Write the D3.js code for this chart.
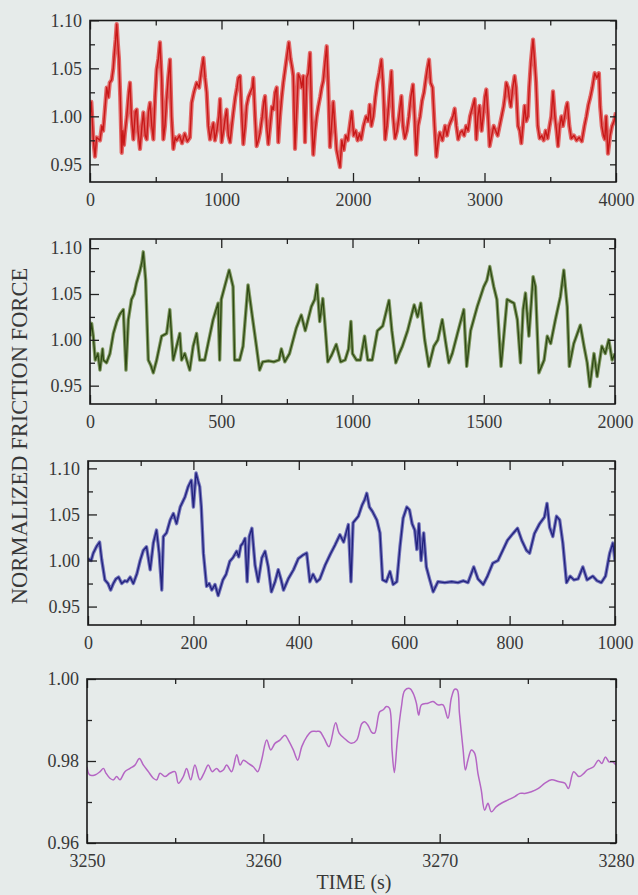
<!DOCTYPE html>
<html>
<head>
<meta charset="utf-8">
<script src="https://cdn.jsdelivr.net/npm/d3@7"></script>
<style>
body { margin: 0; background: #e6ebea; }
svg text { font-family: "Liberation Serif", "Times New Roman", serif; fill: #383838; }
.tick line { stroke: #222; stroke-width: 1.3; }
</style>
</head>
<body>
<svg id="chart" width="638" height="895"></svg>
<script>
// friction force traces, [time (s), normalized force]
var redData = [[0,1.000],[10,1.015],[20,0.990],[25,0.976],[38,0.958],[50,0.978],[76,0.975],[90,0.990],[100,0.985],[115,1.010],
	[127,1.030],[140,1.020],[150,1.035],[165,1.038],[177,1.050],[185,1.065],[195,1.080],[203,1.096],[212,1.075],[220,1.060],
	[230,1.020],[241,0.962],[250,0.985],[258,0.970],[266,0.983],[280,1.000],[295,1.025],[304,1.035],[315,1.000],[330,0.976],
	[345,1.005],[355,1.007],[365,0.985],[380,0.966],[395,0.990],[406,1.004],[420,0.980],[431,0.976],[445,1.005],[456,1.014],
	[470,0.990],[482,0.976],[495,1.020],[507,1.049],[520,1.060],[532,1.077],[545,1.040],[558,0.976],[570,0.990],[583,1.018],
	[595,1.040],[608,1.059],[620,1.000],[634,0.966],[648,0.978],[659,0.975],[680,0.980],[700,0.972],[720,0.982],[740,0.974],
	[760,0.978],[773,1.014],[790,1.025],[811,1.035],[830,1.030],[845,1.045],[862,1.061],[875,1.040],[887,1.025],[900,0.990],
	[913,0.976],[925,0.985],[938,0.993],[950,0.975],[965,0.985],[980,1.000],[989,1.018],[1001,0.973],[1015,0.985],[1030,1.000],
	[1039,1.007],[1052,0.980],[1065,0.973],[1078,0.990],[1090,1.004],[1105,1.020],[1118,1.030],[1128,1.040],[1141,1.042],[1155,1.000],
	[1166,0.971],[1180,0.990],[1191,1.011],[1205,1.020],[1220,1.025],[1235,1.030],[1242,1.040],[1255,1.000],[1267,0.969],[1280,0.975],
	[1293,0.983],[1310,1.000],[1322,1.015],[1331,1.021],[1344,0.990],[1356,0.971],[1370,0.990],[1384,1.010],[1394,1.007],[1408,1.025],
	[1420,1.030],[1432,0.973],[1445,1.000],[1458,1.020],[1470,1.035],[1485,1.050],[1500,1.065],[1512,1.077],[1525,1.060],[1538,1.050],
	[1546,1.042],[1559,0.966],[1570,1.000],[1584,1.044],[1597,1.040],[1610,1.030],[1622,1.042],[1635,0.973],[1648,1.040],[1660,1.045],
	[1673,1.066],[1685,1.000],[1698,0.960],[1712,0.985],[1724,1.000],[1736,1.010],[1750,1.020],[1762,1.030],[1774,1.037],[1790,1.060],
	[1800,1.073],[1812,1.030],[1825,0.968],[1837,0.990],[1850,1.015],[1862,0.990],[1875,0.965],[1890,0.955],[1901,0.947],[1915,0.975],
	[1930,0.965],[1945,0.980],[1960,0.975],[1975,0.990],[1990,1.005],[2005,0.980],[2020,0.985],[2035,0.975],[2050,0.982],[2062,0.976],
	[2080,0.990],[2100,1.000],[2115,0.995],[2127,1.012],[2140,0.990],[2155,1.000],[2170,1.020],[2185,1.035],[2200,1.045],[2216,1.059],
	[2230,1.030],[2245,0.976],[2258,0.990],[2270,1.010],[2282,1.030],[2292,1.047],[2305,1.000],[2320,0.977],[2335,0.985],[2350,1.000],
	[2368,1.021],[2380,0.990],[2394,0.977],[2410,0.985],[2425,1.000],[2440,1.020],[2456,1.033],[2468,1.000],[2481,0.960],[2495,0.990],
	[2510,1.000],[2525,1.016],[2540,1.025],[2555,1.040],[2566,1.050],[2578,1.059],[2590,1.035],[2605,1.030],[2620,0.990],[2634,0.958],
	[2648,0.975],[2660,0.983],[2680,0.975],[2700,0.990],[2715,0.980],[2730,0.990],[2745,0.995],[2760,1.000],[2773,1.008],[2786,0.990],
	[2800,0.976],[2815,0.983],[2830,0.985],[2845,0.980],[2860,0.990],[2875,0.985],[2890,1.000],[2910,1.010],[2925,1.018],[2938,0.976],
	[2950,1.000],[2962,1.011],[2978,0.985],[2990,1.000],[3003,1.020],[3014,1.028],[3027,1.000],[3039,0.969],[3055,0.980],[3070,0.990],
	[3085,0.985],[3100,0.980],[3115,0.990],[3130,1.000],[3145,1.010],[3155,1.020],[3166,1.035],[3178,1.030],[3190,1.018],[3200,1.010],
	[3215,1.030],[3229,1.042],[3240,1.030],[3255,0.990],[3268,0.985],[3280,0.972],[3292,0.990],[3305,1.011],[3318,0.995],[3330,1.000],
	[3340,1.030],[3352,1.055],[3362,1.070],[3369,1.080],[3380,1.060],[3392,1.035],[3405,0.990],[3420,0.977],[3435,0.980],[3450,0.975],
	[3465,0.985],[3480,0.977],[3495,0.990],[3508,1.000],[3521,1.026],[3535,1.000],[3548,0.985],[3559,0.969],[3572,0.990],[3585,1.000],
	[3597,0.990],[3610,1.000],[3622,1.010],[3630,1.014],[3645,0.990],[3660,0.977],[3680,0.980],[3700,0.975],[3720,0.978],[3740,0.974],
	[3760,0.990],[3775,1.000],[3790,1.012],[3805,1.020],[3820,1.030],[3838,1.045],[3855,1.040],[3870,1.045],[3880,1.010],[3892,0.990],
	[3905,0.980],[3915,0.976],[3925,1.000],[3939,0.961],[3955,0.980],[3970,0.990],[3985,0.995],[4000,1.004]];

var greenData = [[0,1.004],[6,1.018],[12,1.005],[20,0.978],[30,0.985],[38,0.967],[48,0.990],[51,0.978],[63,0.975],[76,0.985],
	[89,1.007],[102,1.020],[114,1.028],[127,1.033],[137,0.967],[146,1.022],[158,1.044],[168,1.050],[177,1.062],[190,1.075],
	[198,1.085],[203,1.096],[212,1.065],[222,0.978],[232,0.972],[241,0.964],[254,0.978],[273,1.004],[292,1.007],[304,1.033],
	[317,0.978],[330,0.993],[342,1.007],[349,0.978],[361,0.985],[380,0.967],[393,0.993],[406,1.007],[418,0.978],[437,0.978],
	[450,0.996],[469,1.022],[488,1.040],[494,0.978],[500,1.044],[513,1.058],[530,1.076],[545,1.058],[551,0.978],[570,0.978],
	[583,0.993],[602,1.060],[620,1.022],[634,0.993],[646,0.967],[658,0.976],[680,0.977],[700,0.976],[720,0.978],[729,0.990],
	[742,0.976],[760,0.985],[786,1.013],[805,1.027],[820,1.010],[843,1.036],[856,1.044],[865,1.060],[875,1.020],[887,1.045],
	[897,1.010],[906,0.976],[920,0.983],[938,0.995],[955,0.976],[972,0.978],[985,0.990],[994,1.020],[1000,0.985],[1015,0.978],
	[1030,0.978],[1046,1.004],[1058,0.978],[1075,0.978],[1095,1.010],[1115,1.015],[1139,1.043],[1150,1.010],[1165,0.975],[1178,0.985],
	[1190,0.993],[1210,1.010],[1235,1.038],[1248,1.025],[1260,1.040],[1275,1.000],[1291,0.971],[1310,0.993],[1325,1.000],[1342,1.022],
	[1355,0.997],[1367,0.975],[1380,0.985],[1400,1.007],[1424,1.033],[1435,0.971],[1450,1.010],[1475,1.036],[1500,1.058],[1512,1.065],
	[1523,1.080],[1538,1.058],[1550,1.044],[1566,0.971],[1582,1.022],[1589,1.044],[1615,1.040],[1628,1.022],[1640,0.975],[1650,1.033],
	[1659,1.051],[1672,1.004],[1688,1.069],[1697,1.058],[1710,0.964],[1730,0.978],[1742,1.004],[1755,0.996],[1773,1.022],[1792,1.047],
	[1805,1.076],[1818,1.036],[1826,0.971],[1843,0.996],[1868,1.016],[1882,0.993],[1894,0.975],[1904,0.949],[1920,0.985],[1932,0.960],
	[1950,0.993],[1963,0.985],[1976,1.000],[1989,0.978],[2000,0.985]];

var blueData = [[0,1.002],[6,1.000],[10,1.008],[16,1.015],[22,1.020],[26,1.001],[32,0.979],[38,0.975],[43,0.968],[48,0.975],
	[53,0.980],[58,0.982],[64,0.975],[70,0.978],[74,0.977],[80,0.982],[86,0.975],[93,0.986],[99,1.000],[105,1.011],
	[111,1.015],[118,0.990],[124,1.019],[130,1.033],[135,1.008],[140,0.968],[143,1.026],[149,1.030],[156,1.044],[162,1.051],
	[168,1.040],[175,1.058],[184,1.069],[190,1.080],[196,1.087],[200,1.058],[205,1.095],[209,1.086],[212,1.080],[215,1.058],
	[219,1.008],[225,0.972],[230,0.975],[235,0.968],[241,0.974],[247,0.962],[256,0.979],[262,0.985],[269,0.999],[275,1.003],
	[282,1.010],[286,1.004],[290,1.016],[294,1.019],[298,1.024],[302,0.977],[306,1.026],[311,1.035],[317,0.995],[323,0.977],
	[330,1.003],[336,1.010],[342,0.993],[348,0.966],[355,0.977],[361,0.990],[366,0.980],[371,0.968],[380,0.980],[390,0.990],
	[399,1.002],[408,1.006],[415,1.008],[421,0.977],[427,0.985],[434,0.977],[440,0.980],[450,0.995],[460,1.007],[469,1.017],
	[478,1.028],[485,1.020],[494,1.039],[499,0.977],[503,1.041],[513,1.048],[520,1.060],[525,1.066],[529,1.073],[534,1.058],
	[540,1.053],[548,1.044],[554,1.030],[559,0.979],[566,0.977],[573,0.988],[579,0.974],[586,0.977],[592,1.015],[598,1.046],
	[605,1.058],[610,1.055],[615,1.040],[620,1.033],[624,1.012],[628,1.040],[632,1.000],[637,1.030],[642,0.993],[648,0.980],
	[655,0.966],[664,0.977],[677,0.976],[690,0.977],[702,0.976],[712,0.978],[721,0.976],[732,0.993],[740,0.980],[750,0.974],
	[758,0.983],[768,0.997],[778,1.000],[787,1.011],[796,1.022],[806,1.029],[815,1.035],[823,1.022],[832,1.011],[838,1.008],
	[847,1.029],[857,1.040],[866,1.047],[871,1.062],[876,1.036],[882,1.026],[889,1.048],[895,1.044],[901,1.019],[908,0.976],
	[915,0.983],[922,0.979],[930,0.980],[939,0.993],[947,0.979],[958,0.983],[966,0.978],[974,0.976],[982,0.983],[990,1.008],
	[996,1.019],[1000,1.000]];

var purpleData = [[3250.0,0.9786],[3250.15,0.9766],[3250.45,0.9766],[3250.74,0.9774],[3250.93,0.9782],[3251.08,0.9770],[3251.3,0.9758],
	[3251.5,0.9754],[3251.68,0.9762],[3251.87,0.9754],[3252.15,0.9774],[3252.44,0.9782],[3252.72,0.9790],[3252.97,0.9806],
	[3253.2,0.9790],[3253.48,0.9774],[3253.76,0.9758],[3253.95,0.9754],[3254.14,0.9770],[3254.42,0.9762],[3254.7,0.9770],
	[3254.99,0.9774],[3255.18,0.9746],[3255.46,0.9762],[3255.65,0.9782],[3255.88,0.9754],[3256.12,0.9790],[3256.4,0.9754],
	[3256.63,0.9770],[3256.88,0.9790],[3257.1,0.9774],[3257.35,0.9782],[3257.54,0.9774],[3257.73,0.9778],[3257.92,0.9790],
	[3258.2,0.9774],[3258.49,0.9815],[3258.68,0.9790],[3258.87,0.9802],[3259.15,0.9794],[3259.43,0.9786],[3259.68,0.9774],
	[3259.9,0.9802],[3260.19,0.9851],[3260.42,0.9827],[3260.66,0.9843],[3260.94,0.9851],[3261.23,0.9863],[3261.42,0.9851],
	[3261.7,0.9827],[3261.95,0.9802],[3262.18,0.9835],[3262.46,0.9859],[3262.74,0.9872],[3263.0,0.9872],[3263.2,0.9872],
	[3263.45,0.9855],[3263.72,0.9835],[3264.1,0.9893],[3264.3,0.9868],[3264.6,0.9855],[3265.0,0.9843],[3265.3,0.9851],
	[3265.58,0.9891],[3265.75,0.9896],[3265.95,0.9886],[3266.15,0.9870],[3266.31,0.9868],[3266.6,0.9920],[3266.8,0.9925],
	[3266.98,0.9933],[3267.15,0.9929],[3267.3,0.9826],[3267.43,0.9772],[3267.6,0.9851],[3267.83,0.9932],[3268.02,0.9972],
	[3268.3,0.9977],[3268.5,0.9965],[3268.68,0.9941],[3268.81,0.9912],[3268.97,0.9937],[3269.34,0.9941],[3269.63,0.9945],
	[3269.9,0.9937],[3270.19,0.9937],[3270.47,0.9904],[3270.66,0.9953],[3270.85,0.9975],[3271.0,0.9973],[3271.12,0.9917],
	[3271.33,0.9827],[3271.46,0.9778],[3271.6,0.9802],[3271.8,0.9827],[3271.98,0.9819],[3272.17,0.9770],[3272.36,0.9729],
	[3272.55,0.9680],[3272.74,0.9697],[3272.93,0.9676],[3273.2,0.9688],[3273.5,0.9697],[3273.88,0.9705],[3274.26,0.9713],
	[3274.55,0.9721],[3274.83,0.9721],[3275.2,0.9725],[3275.6,0.9733],[3275.97,0.9746],[3276.35,0.9754],[3276.73,0.9750],
	[3277.1,0.9746],[3277.3,0.9733],[3277.6,0.9774],[3277.9,0.9762],[3278.18,0.9770],[3278.36,0.9778],[3278.73,0.9786],
	[3279.0,0.9802],[3279.2,0.9794],[3279.4,0.9810],[3279.6,0.9798],[3279.8,0.9798],[3280.0,0.9790]];

// tick labels
var redTicks = [0, 1000, 2000, 3000, 4000];
var greenTicks = [0, 500, 1000, 1500, 2000];
var blueTicks = [0, 200, 400, 600, 800, 1000];
var purpleTicks = [3250, 3260, 3270, 3280];
var forceTicks = [0.95, 1.00, 1.05, 1.10];
var zoomForceTicks = [0.96, 0.98, 1.00];

var panels = [
	{ id: "red", data: redData, color: "#c81818", halo: "#e03a3a", lw: 1.4, hw: 4.2, left: 90, right: 616, top: 20.5, bottom: 182,
		xDomain: [0, 4000], yDomain: [0.9316, 1.0998], xTicks: redTicks, xStep: 500, yTicks: forceTicks, yStep: 0.025 },
	{ id: "green", data: greenData, color: "#2f4a14", halo: "#5a7a30", lw: 1.3, hw: 3.4, left: 90, right: 615, top: 239, bottom: 404,
		xDomain: [0, 2000], yDomain: [0.930, 1.110], xTicks: greenTicks, xStep: 250, yTicks: forceTicks, yStep: 0.025 },
	{ id: "blue", data: blueData, color: "#22227e", halo: "#4a4aa8", lw: 1.3, hw: 3.4, left: 88, right: 615, top: 461, bottom: 625,
		xDomain: [0, 1000], yDomain: [0.930, 1.108], xTicks: blueTicks, xStep: 100, yTicks: forceTicks, yStep: 0.025 },
	{ id: "purple", data: purpleData, color: "#b566c4", halo: null, lw: 1.5, hw: 0, left: 87, right: 616, top: 679, bottom: 843,
		xDomain: [3250, 3280], yDomain: [0.96, 1.00], xTicks: purpleTicks, xStep: 5, yTicks: zoomForceTicks, yStep: 0.01 }
];

function minorTicks(domain, step, major) {
	var out = [];
	var n = Math.round((domain[1] - domain[0]) / step);
	for (var i = 0; i <= n; ++i) {
		var v = +(domain[0] + i * step).toFixed(4);
		var isMajor = major.some(function(m) { return Math.abs(m - v) < step / 10; });
		if (!isMajor) out.push(v);
	}
	return out;
}

function renderPanel(p) {
	var svg = d3.select("#chart");
	var g = svg.append("g").attr("id", "panel_" + p.id);

	var x = d3.scaleLinear().domain(p.xDomain).range([p.left, p.right]);
	var y = d3.scaleLinear().domain(p.yDomain).range([p.bottom, p.top]);

	svg.append("clipPath").attr("id", "clip_" + p.id)
		.append("rect")
		.attr("x", p.left).attr("y", p.top)
		.attr("width", p.right - p.left).attr("height", p.bottom - p.top);

	var line = d3.line()
		.x(function(d) { return x(d[0]); })
		.y(function(d) { return y(d[1]); })
		.curve(p.id == "purple" ? d3.curveCatmullRom : d3.curveLinear);

	// the noisy traces read as a thick band, so draw a soft halo under the core line
	if (p.halo) {
		g.append("path")
			.datum(p.data)
			.attr("d", line)
			.attr("clip-path", "url(#clip_" + p.id + ")")
			.attr("fill", "none")
			.attr("stroke", p.halo)
			.attr("stroke-opacity", 0.75)
			.attr("stroke-width", p.hw)
			.attr("stroke-linejoin", "round");
	}
	g.append("path")
		.datum(p.data)
		.attr("d", line)
		.attr("clip-path", "url(#clip_" + p.id + ")")
		.attr("fill", "none")
		.attr("stroke", p.color)
		.attr("stroke-width", p.lw)
		.attr("stroke-linejoin", "round");

	var xMinor = minorTicks(p.xDomain, p.xStep, p.xTicks);
	var yMinor = minorTicks(p.yDomain[0] < p.yTicks[0] ? [p.yTicks[0] - p.yStep, p.yDomain[1]] : p.yDomain, p.yStep, p.yTicks)
		.filter(function(v) { return v >= p.yDomain[0] && v <= p.yDomain[1]; });

	g.append("g").attr("transform", "translate(0," + p.bottom + ")")
		.call(d3.axisBottom(x).tickValues(p.xTicks).tickSizeInner(-9).tickSizeOuter(0).tickPadding(11).tickFormat(d3.format("d")));
	g.append("g").attr("transform", "translate(0," + p.bottom + ")")
		.call(d3.axisBottom(x).tickValues(xMinor).tickSizeInner(-5).tickSizeOuter(0).tickFormat(""));
	g.append("g").attr("transform", "translate(0," + p.top + ")")
		.call(d3.axisTop(x).tickValues(p.xTicks).tickSizeInner(-9).tickSizeOuter(0).tickFormat(""));
	g.append("g").attr("transform", "translate(0," + p.top + ")")
		.call(d3.axisTop(x).tickValues(xMinor).tickSizeInner(-5).tickSizeOuter(0).tickFormat(""));

	g.append("g").attr("transform", "translate(" + p.left + ",0)")
		.call(d3.axisLeft(y).tickValues(p.yTicks).tickSizeInner(-9).tickSizeOuter(0).tickPadding(8).tickFormat(d3.format(".2f")));
	g.append("g").attr("transform", "translate(" + p.left + ",0)")
		.call(d3.axisLeft(y).tickValues(yMinor).tickSizeInner(-5).tickSizeOuter(0).tickFormat(""));
	g.append("g").attr("transform", "translate(" + p.right + ",0)")
		.call(d3.axisRight(y).tickValues(p.yTicks).tickSizeInner(-6).tickSizeOuter(0).tickFormat(""));
	g.append("g").attr("transform", "translate(" + p.right + ",0)")
		.call(d3.axisRight(y).tickValues(yMinor).tickSizeInner(-4).tickSizeOuter(0).tickFormat(""));

	g.selectAll(".domain").remove();
	g.selectAll(".tick text")
		.style("font-size", "18px")
		.attr("fill", "#383838");

	g.append("rect")
		.attr("x", p.left).attr("y", p.top)
		.attr("width", p.right - p.left).attr("height", p.bottom - p.top)
		.attr("fill", "none")
		.attr("stroke", "#1a1a1a")
		.attr("stroke-width", 1.6);
}

for (var i = 0, len = panels.length; i < len; ++i) {
	renderPanel(panels[i]);
}

var svg = d3.select("#chart");
svg.append("text")
	.attr("transform", "translate(27,436) rotate(-90)")
	.attr("text-anchor", "middle")
	.style("font-size", "22.5px")
	.text("NORMALIZED FRICTION FORCE");

svg.append("text")
	.attr("x", 354).attr("y", 889)
	.attr("text-anchor", "middle")
	.style("font-size", "20px")
	.text("TIME (s)");
</script>
</body>
</html>
